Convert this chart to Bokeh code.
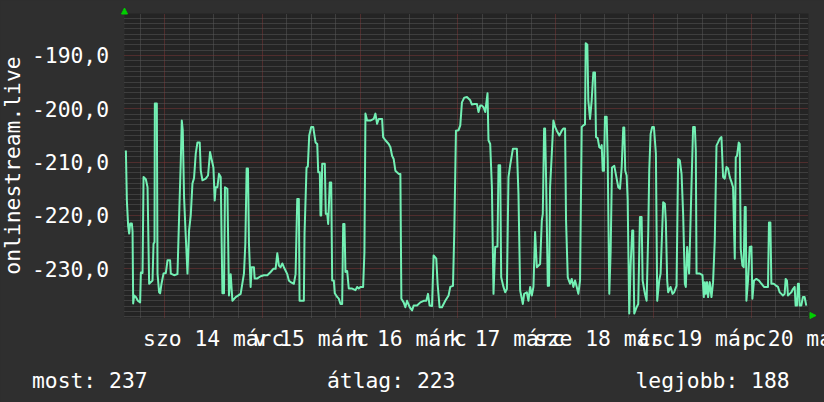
import math
from bokeh.plotting import figure
from bokeh.models import Range1d, FixedTicker, Grid, Label, Arrow, NormalHead, BoxAnnotation
from bokeh.embed import file_html
from bokeh.resources import INLINE

# ---------------- data (hours since 2026-03-14 00:00, plotted value = -rank) ----------------
hours = [
    -9.56, -9.32, -9.00, -8.75, -8.51, -8.09, -7.92, -7.77, -7.53, -7.11,
    -6.62, -6.06, -5.88, -5.47, -5.22, -4.66, -4.24, -3.85, -3.02, -2.77,
    -2.53, -2.45, -1.96, -1.79, -1.40, -1.15, -0.81, -0.32, 0.25, 0.66,
    1.30, 1.47, 2.28, 3.11, 3.51, 3.92, 4.17, 4.41, 4.73, 5.15,
    5.57, 5.96, 6.37, 6.79, 7.18, 7.60, 8.02, 8.58, 8.83, 9.24,
    10.05, 10.62, 11.11, 11.45, 11.94, 12.26, 12.50, 12.92, 13.31, 13.73,
    14.15, 14.54, 14.78, 15.37, 15.76, 16.18, 16.60, 17.41, 18.63, 19.44,
    19.78, 20.10, 20.42, 20.67, 21.08, 21.33, 21.89, 22.06, 22.73, 23.54,
    24.34, 25.18, 25.99, 26.65, 27.21, 27.63, 28.02, 28.44, 28.86, 29.25,
    30.08, 30.47, 30.89, 31.70, 32.12, 32.53, 32.92, 33.10, 34.15, 34.32,
    34.81, 35.13, 35.47, 35.96, 36.45, 37.02, 37.44, 37.68, 38.07, 38.24,
    38.42, 38.66, 39.30, 39.54, 39.89, 40.13, 40.52, 40.87, 41.11, 41.51,
    41.75, 42.34, 42.73, 43.15, 43.56, 43.81, 44.13, 44.37, 44.79, 45.18,
    46.02, 46.83, 47.24, 47.63, 48.05, 48.71, 49.03, 49.28, 49.69, 50.50,
    51.31, 51.73, 52.14, 52.54, 53.37, 53.62, 54.18, 54.99, 55.41, 55.82,
    56.21, 56.63, 57.44, 57.86, 58.10,
    58.67, 59.08, 59.50, 60.14, 60.73, 61.12, 61.95, 62.76, 63.57, 64.23,
    64.65, 65.04, 65.63, 66.02, 66.68, 67.00, 67.49, 68.08, 68.89, 69.70,
    70.11, 70.78, 71.10, 71.51, 72.15, 72.57, 72.98, 73.55, 74.21, 75.02,
    75.43, 76.00, 76.66, 77.05, 77.47, 77.89, 78.28, 78.70, 78.94, 79.26,
    79.50, 79.92, 80.34, 80.73, 81.15, 81.71, 81.96, 82.37, 82.62, 83.18,
    83.60, 84.02, 84.41, 84.82, 85.49, 86.47, 86.86, 87.28, 87.94, 88.26,
    88.92, 89.31, 89.73, 90.14, 90.54, 90.95, 91.37, 92.18, 92.60, 92.84,
    93.16, 93.40, 93.65, 94.07, 94.38, 94.63, 95.05, 95.44, 95.86, 96.27,
    96.91, 97.50, 97.89, 98.31, 98.55, 98.97, 99.53, 99.95, 100.34, 100.76,
    101.18, 101.57, 101.99, 102.40, 102.80, 103.21, 103.38, 103.78, 104.02, 104.44,
    104.85, 105.25, 105.66, 105.91, 106.32, 106.72, 107.06, 107.31, 107.55, 107.87,
    108.11, 108.53, 108.78, 109.17, 109.51, 109.83, 110.40, 110.98, 111.38, 111.79,
    112.21, 112.60, 112.85, 113.09, 113.43, 113.68, 114.07, 114.42, 114.81, 115.05,
    115.30, 115.89, 116.28, 116.70, 117.11, 117.36, 117.92, 118.34, 118.73, 118.98,
    119.32, 119.71, 120.13, 120.62, 120.94, 121.43, 121.77, 122.41, 122.82, 123.07,
    123.39, 123.63, 124.22, 124.71, 125.10, 125.69, 126.08, 126.50, 126.92, 127.31,
    127.73, 127.97, 128.29, 128.78, 129.37, 129.76, 130.18, 130.42, 130.60, 131.40,
    132.06, 132.38, 132.63, 132.87, 133.19, 133.44, 133.85, 134.27, 134.66, 135.08,
    135.50, 135.89, 136.31, 136.72, 137.12, 137.53, 137.95, 138.34, 138.76, 139.17,
    139.57, 139.99, 140.23, 140.55, 140.97, 141.21, 141.46, 141.87, 142.19, 142.44,
    142.68, 142.85, 143.25, 143.66, 144.08, 144.32, 144.72, 145.30, 145.94, 146.53,
    147.17, 148.15, 148.39, 148.74, 148.98, 149.55, 150.04, 150.60, 151.02, 151.43,
    151.82, 152.24, 152.49, 152.81, 153.05, 153.47, 153.89, 154.28, 154.70, 154.94,
    155.26, 155.50, 155.75, 155.92, 156.33, 156.73, 157.14, 157.56,
]
values = [
    -207.8, -217.2, -222.0, -223.4, -221.5, -221.5, -223.0, -236.5, -235.0, -235.3,
    -236.0, -236.3, -230.7, -230.8, -212.8, -213.2, -214.7, -232.8, -232.2, -225.3,
    -225.0, -199.0, -199.0, -230.9, -234.4, -234.6, -232.8, -230.9, -230.8, -228.4,
    -228.4, -230.9, -231.2, -231.0, -220.3, -210.0, -202.2, -204.0, -216.6, -224.0,
    -230.9, -222.8, -220.0, -214.0, -213.0, -208.4, -206.3, -206.3, -211.6, -213.4,
    -213.1, -212.5, -208.1, -209.3, -211.0, -217.2, -214.7, -214.7, -212.2, -212.8,
    -234.6, -234.6, -214.7, -215.0, -235.0, -231.0, -236.0, -235.3, -234.7, -230.9,
    -225.3, -211.2, -211.2, -225.3, -233.4, -229.7, -229.7, -231.8, -231.8, -231.4,
    -231.2, -231.2, -230.6, -230.0, -230.0, -227.1, -229.4, -229.7, -229.0, -229.7,
    -231.0, -232.2, -232.5, -232.8, -231.0, -216.9, -216.9, -236.0, -236.0, -223.4,
    -211.0, -210.8, -205.0, -203.4, -203.4, -206.3, -206.6, -211.9, -211.9, -220.0,
    -220.0, -210.3, -210.3, -219.7, -219.7, -221.6, -213.8, -213.8, -232.2, -232.2,
    -234.6, -235.3, -235.6, -236.6, -236.6, -221.6, -221.6, -230.6, -230.4, -233.7,
    -233.7, -234.0, -233.4, -233.7, -233.4, -233.4, -226.9, -200.9, -202.2, -202.2,
    -201.9, -200.9, -202.8, -201.9, -201.9, -205.3, -205.9, -206.6, -207.2, -208.8,
    -209.4, -211.6, -212.2, -212.2, -235.6,
    -236.3, -237.2, -236.0, -237.2, -237.8, -236.9, -236.9, -236.3, -236.0, -236.0,
    -234.7, -236.9, -237.0, -227.5, -228.1, -232.8, -237.2, -237.2, -236.0, -235.0,
    -233.4, -233.2, -223.1, -204.1, -204.0, -203.1, -198.8, -197.9, -197.8, -198.4,
    -199.2, -199.1, -199.1, -200.6, -199.4, -199.4, -199.7, -200.6, -199.1, -197.1,
    -205.9, -206.6, -214.7, -234.7, -225.9, -225.8, -210.6, -210.6, -231.6, -233.4,
    -234.4, -233.8, -212.8, -210.6, -207.5, -207.5, -215.9, -234.1, -236.6, -234.7,
    -234.4, -236.0, -233.4, -235.0, -233.4, -223.1, -229.7, -229.1, -220.9, -219.7,
    -203.7, -203.7, -213.1, -233.2, -233.2, -214.7, -208.4, -202.2, -203.4, -204.1,
    -205.0, -204.1, -203.7, -203.7, -220.9, -231.6, -232.8, -231.9, -233.4, -232.2,
    -233.4, -234.7, -232.2, -203.4, -203.1, -202.9, -187.7, -188.0, -198.4, -201.9,
    -198.4, -193.2, -193.2, -205.3, -205.5, -207.2, -207.4, -206.8, -211.6, -211.6,
    -201.5, -201.5, -209.4, -234.7, -226.6, -211.0, -210.7, -213.1, -214.7, -215.0,
    -211.0, -203.5, -203.5, -211.6, -212.5, -216.9, -238.4, -229.1, -222.8, -222.8,
    -238.4, -237.2, -236.6, -220.3, -220.3, -232.2, -234.7, -236.0, -223.4, -211.6,
    -204.7, -203.4, -203.4, -208.4, -236.0, -232.2, -230.9, -217.5, -217.8, -221.3,
    -232.2, -234.4, -233.4, -234.7, -234.4, -233.2, -209.4, -209.7, -212.2, -219.7,
    -232.8, -233.4, -225.9, -230.9, -214.1, -203.4, -203.4, -207.8, -230.9, -230.9,
    -231.2, -235.3, -232.5, -234.7, -232.5, -235.3, -232.5, -235.3, -232.5, -224.7,
    -206.9, -206.3, -205.6, -205.3, -212.8, -213.1, -210.9, -211.2, -212.8, -213.7,
    -214.7, -228.1, -209.1, -208.8, -206.3, -206.6, -226.3, -229.4, -229.7, -218.4,
    -218.4, -236.0, -232.2, -225.9, -225.8, -235.6, -232.2, -231.9, -232.2, -232.8,
    -233.4, -233.4, -221.3, -221.3, -232.8, -232.8, -233.1, -233.4, -234.4, -234.7,
    -235.0, -234.7, -231.9, -232.2, -235.0, -234.7, -234.4, -233.8, -233.4, -236.9,
    -236.9, -232.8, -232.8, -236.9, -236.9, -235.3, -235.3, -236.9,
]
assert len(hours) == len(values)

# graph window (time in hours, value range)
t_start, t_end = -9.9, 158.1
v_min, v_max = -239.133, -182.124

y_ticks = [-230, -220, -210, -200, -190]
y_tick_labels = ["-230,0", "-220,0", "-210,0", "-200,0", "-190,0"]
y_minor = [v for v in range(-239, -182) if v % 10 != 0]

day_midnights = [0, 24, 48, 72, 96, 120, 144]
six_hours = [h for h in range(-6, 160, 6) if h % 24 != 0]
day_centers = [12, 36, 60, 84, 108, 132, 156]
day_labels = ["szo 14 márc", "v 15 márc", "h 16 márc", "k 17 márc",
              "sze 18 márc", "cs 19 márc", "p 20 márc"]

y_title = "onlinestream.live"
summary = ["most: 237", "átlag: 223", "legjobb: 188"]

# ---------------- style / layout ----------------
W, H = 824, 402
LEFT, RIGHT, TOP, BOTTOM = 124, 16, 13, 85      # graph area margins in px
BG = "#2f2f2f"
CANVAS = "#242424"
MINOR = "#585858"
MAJOR = "#7c3636"
LINE = "#73f0b4"
TXT = "#ffffff"
ARROW = "#00d000"
FONT = "DejaVu Sans Mono"
FS = "21.33px"

kx = (t_end - t_start) / (W - LEFT - RIGHT)
ky = (v_max - v_min) / (H - TOP - BOTTOM)
p = figure(width=W, height=H, output_backend="svg", toolbar_location=None,
           x_range=Range1d(t_start - LEFT * kx, t_end + RIGHT * kx),
           y_range=Range1d(v_min - BOTTOM * ky, v_max + TOP * ky),
           x_axis_location=None, y_axis_location=None, min_border=0,
           background_fill_color=BG, border_fill_color=BG, outline_line_color=None)
p.xgrid.visible = False
p.ygrid.visible = False

# graph area background
p.add_layout(BoxAnnotation(left=t_start, right=t_end, bottom=v_min, top=v_max,
                           fill_color=CANVAS, fill_alpha=1.0, line_color=None, level="underlay"))

# grids
def make_grid(dim, ticks, minor, cross):
    kw = dict(dimension=dim, ticker=FixedTicker(ticks=ticks, minor_ticks=minor),
              grid_line_color=MAJOR, grid_line_dash="1 1", grid_line_width=1,
              minor_grid_line_color=MINOR, minor_grid_line_dash="1 1", minor_grid_line_width=1)
    try:
        g = Grid(cross_bounds=cross, **kw)
        p.add_layout(g)
        return True
    except Exception:
        return False

ok_x = make_grid(0, day_midnights, six_hours, (v_min, v_max))
ok_y = make_grid(1, y_ticks, y_minor, (t_start, t_end))
if not ok_x:
    p.segment(x0=six_hours, y0=[v_min] * len(six_hours), x1=six_hours, y1=[v_max] * len(six_hours),
              line_color=MINOR, line_dash="1 1", line_width=1)
    p.segment(x0=day_midnights, y0=[v_min] * 7, x1=day_midnights, y1=[v_max] * 7,
              line_color=MAJOR, line_dash="1 1", line_width=1)
if not ok_y:
    p.segment(x0=[t_start] * len(y_minor), y0=y_minor, x1=[t_end] * len(y_minor), y1=y_minor,
              line_color=MINOR, line_dash="1 1", line_width=1)
    p.segment(x0=[t_start] * 5, y0=y_ticks, x1=[t_end] * 5, y1=y_ticks,
              line_color=MAJOR, line_dash="1 1", line_width=1)

# data line
p.line(hours, values, line_color=LINE, line_width=2, line_join="round")

def txt(**kw):
    base = dict(text_font=FONT, text_font_size=FS, text_color=TXT)
    base.update(kw)
    p.add_layout(Label(**base))

# y tick labels (value axis)
for v, t in zip(y_ticks, y_tick_labels):
    txt(x=LEFT - 15.5, x_units="screen", y=v, y_units="data", text=t,
        text_align="right", text_baseline="middle")

# x labels (time axis, centred at noon)
for c, t in zip(day_centers, day_labels):
    txt(x=c, x_units="data", y=H - 338.3, y_units="screen", text=t,
        text_align="center", text_baseline="alphabetic")

# vertical title, centred on the graph area
txt(x=12.3, y=BOTTOM + (H - TOP - BOTTOM) / 2, x_units="screen", y_units="screen", text=y_title,
    angle=math.pi / 2, text_align="center", text_baseline="alphabetic")

# summary line
for sx, t in zip([31.5, 326.5, 635], summary):
    txt(x=sx, y=H - 380, x_units="screen", y_units="screen", text=t,
        text_align="left", text_baseline="alphabetic")

# axis arrows
p.add_layout(Arrow(end=NormalHead(size=6, fill_color=ARROW, line_color=ARROW),
                   x_start=LEFT, y_start=H - 20, x_end=LEFT, y_end=H - 7.5,
                   start_units="screen", end_units="screen", line_alpha=0))
p.add_layout(Arrow(end=NormalHead(size=6, fill_color=ARROW, line_color=ARROW),
                   x_start=800, y_start=H - 315, x_end=815.5, y_end=H - 315,
                   start_units="screen", end_units="screen", line_alpha=0))

html = file_html(p, INLINE, title="onlinestream.live")
html = html.replace("<head>", "<head><style>html,body{margin:0;padding:0;background-color:%s;}</style>" % BG, 1)
open("out.html", "w").write(html)
